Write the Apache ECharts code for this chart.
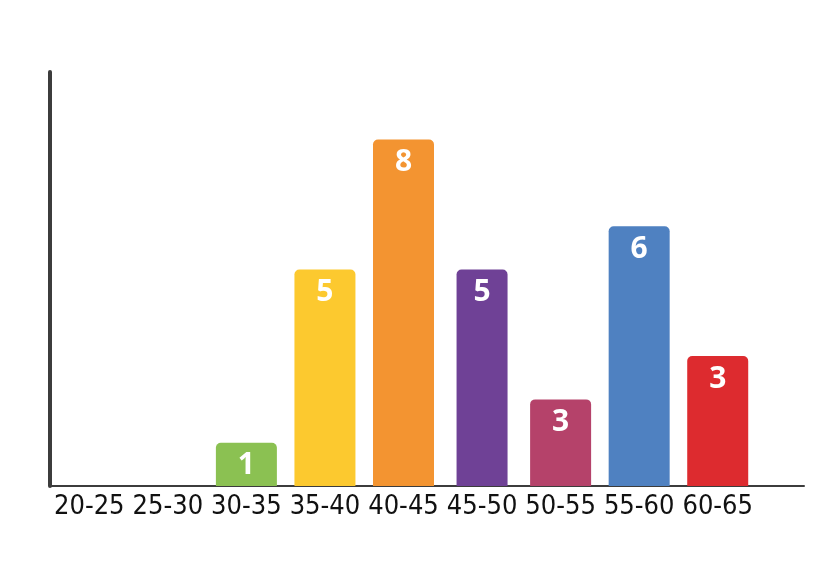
<!DOCTYPE html>
<html>
<head>
<meta charset="utf-8">
<script src="https://cdn.jsdelivr.net/npm/echarts@6/dist/echarts.min.js"></script>
<style>html,body{margin:0;padding:0;background:#fff;}#c{width:813px;height:565px;}</style>
</head>
<body>
<div id="c"></div>
<script>
var categories = ['20-25','25-30','30-35','35-40','40-45','45-50','50-55','55-60','60-65'];
var barHeights = [0, 0, 1, 5, 8, 5, 2, 6, 3];
var valueLabels = ['', '', '1', '5', '8', '5', '3', '6', '3'];
var barColors = ['#8bc152','#8bc152','#8bc152','#fcc92f','#f39431','#6f4196','#b5426a','#4f81c1','#dd2b2f'];
var narrowBars = [false, false, false, false, false, true, false, false, false];

var chart = echarts.init(document.getElementById('c'), null, {renderer: 'canvas'});
function item(i) {
  return {
    value: barHeights[i],
    itemStyle: {color: barColors[i]},
    label: {formatter: valueLabels[i]}
  };
}
var seriesMain = barHeights.map(function (v, i) { return narrowBars[i] ? '-' : item(i); });
var seriesNarrow = barHeights.map(function (v, i) { return narrowBars[i] ? item(i) : '-'; });
var labelStyle = {
  show: true, position: 'insideTop', distance: 8,
  color: '#ffffff', fontSize: 30, fontWeight: 'bold',
  fontFamily: 'Open Sans'
};
var Y_MAX = 9.56;
chart.setOption({
  animation: false,
  backgroundColor: '#ffffff',
  grid: [
    {left: 50, right: 56, top: 72, bottom: 79},
    {left: 50, right: 9, top: 72, bottom: 79}
  ],
  xAxis: [
    {
      type: 'category', gridIndex: 0, data: categories,
      axisLine: {show: false},
      axisTick: {show: false},
      axisLabel: {
        color: '#111111', fontSize: 27, margin: 7,
        fontFamily: "'DejaVu Sans Condensed', Roboto, sans-serif", interval: 0
      }
    },
    {
      type: 'category', gridIndex: 0, data: categories, show: false
    },
    {
      type: 'category', gridIndex: 1, data: categories,
      axisLine: {show: true, lineStyle: {color: '#3c3c3c', width: 2}},
      axisTick: {show: false},
      axisLabel: {show: false}
    }
  ],
  yAxis: [
    {
      type: 'value', gridIndex: 0, min: 0, max: Y_MAX,
      axisLine: {show: true, lineStyle: {color: '#3c3c3c', width: 4}},
      axisTick: {show: false}, axisLabel: {show: false},
      splitLine: {show: false}
    },
    {
      type: 'value', gridIndex: 1, min: 0, max: Y_MAX, show: false
    }
  ],
  series: [
    {
      type: 'bar', xAxisIndex: 0, yAxisIndex: 0,
      data: seriesMain, barWidth: 61,
      itemStyle: {borderRadius: [5, 5, 0, 0]},
      label: labelStyle
    },
    {
      type: 'bar', xAxisIndex: 1, yAxisIndex: 0,
      data: seriesNarrow, barWidth: 51,
      itemStyle: {borderRadius: [5, 5, 0, 0]},
      label: labelStyle
    }
  ]
});
</script>
</body>
</html>
